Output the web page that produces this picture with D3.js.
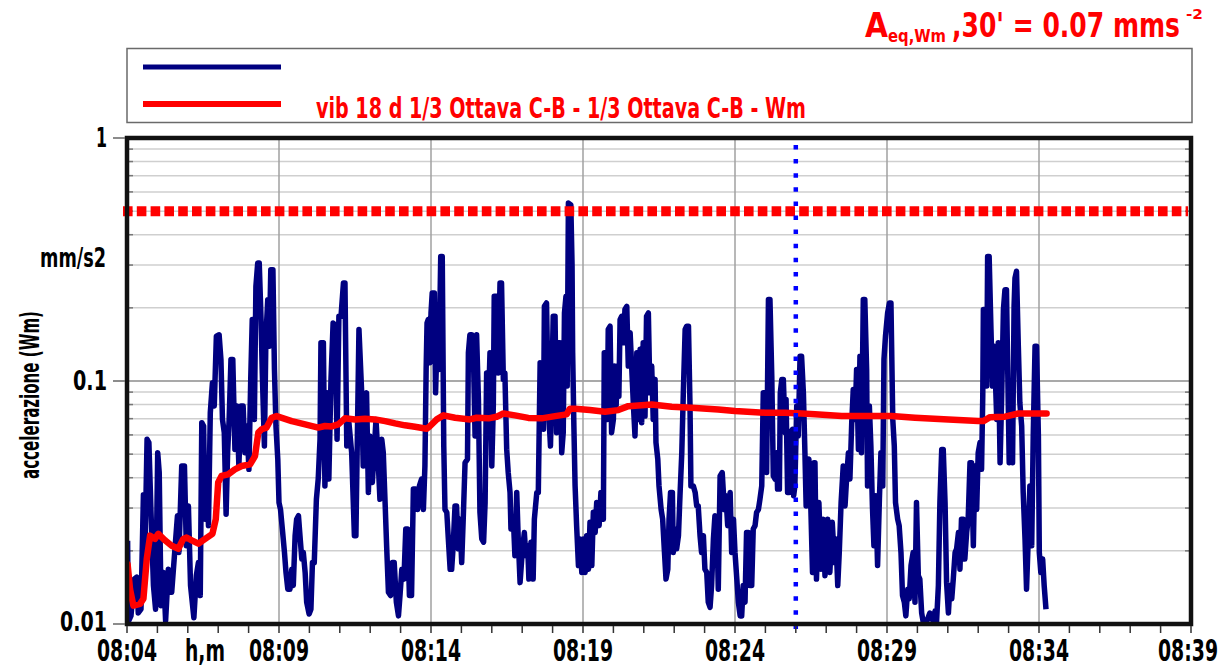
<!DOCTYPE html>
<html><head><meta charset="utf-8">
<script src="https://cdn.jsdelivr.net/npm/d3@7"></script>
<style>
html,body{margin:0;padding:0;background:#fff;}
svg{display:block;}
text{font-family:'Liberation Sans Narrow','DejaVu Sans Condensed','Arial Narrow',sans-serif;font-weight:bold;}
</style></head>
<body>
<svg id="chart" width="1227" height="667"></svg>
<script>
// ---- data (time in minutes after 08:04, acceleration in mm/s2) ----
const xTickLabels = ["08:04","08:09","08:14","08:19","08:24","08:29","08:34","08:39"];
const yTickValues = [0.01, 0.1, 1];
const yTickLabels = ["0.01", "0.1", "1"];
const yMinorGrid = [0.02,0.03,0.04,0.05,0.06,0.07,0.08,0.09,0.2,0.3,0.4,0.5,0.6,0.7,0.8,0.9];
const limitValue = 0.5;      // red dashed limit
const cursorMinute = 22;     // blue dotted cursor at 08:26
const legendLabels = ["", "vib 18 d 1/3 Ottava C-B - 1/3 Ottava C-B - Wm"];

const blueSeries = [
[0.02,0.022],[0.04,0.0102],[0.13,0.0108],[0.24,0.0153],[0.32,0.0156],[0.37,0.0111],[0.46,0.0115],[0.54,0.034],[0.59,0.0197],[0.66,0.0576],[0.72,0.0558],[0.79,0.0288],[0.87,0.0144],[0.94,0.0115],[1.01,0.0507],[1.06,0.042],[1.12,0.0119],[1.20,0.0163],[1.27,0.0103],[1.36,0.0168],[1.47,0.0135],[1.56,0.0191],[1.66,0.0279],[1.71,0.0197],[1.80,0.0447],[1.89,0.0447],[1.95,0.021],[2.02,0.0306],[2.09,0.0144],[2.20,0.0106],[2.28,0.0158],[2.35,0.0179],[2.41,0.0131],[2.46,0.0674],[2.52,0.0653],[2.57,0.027],[2.63,0.0382],[2.68,0.0254],[2.74,0.074],[2.81,0.0984],[2.87,0.0789],[2.94,0.153],[3.03,0.155],[3.09,0.1227],[3.14,0.0695],[3.20,0.0613],[3.26,0.0283],[3.31,0.0507],[3.36,0.0695],[3.42,0.1227],[3.48,0.1227],[3.55,0.0523],[3.62,0.0789],[3.68,0.0447],[3.75,0.0789],[3.82,0.0789],[3.88,0.0507],[3.95,0.0653],[4.01,0.0433],[4.07,0.1015],[4.12,0.179],[4.19,0.0695],[4.24,0.245],[4.30,0.306],[4.35,0.306],[4.41,0.179],[4.45,0.108],[4.52,0.054],[4.57,0.153],[4.63,0.216],[4.68,0.139],[4.73,0.287],[4.80,0.287],[4.85,0.1116],[4.90,0.0653],[4.96,0.0477],[5.00,0.0316],[5.05,0.0296],[5.11,0.0246],[5.18,0.0197],[5.23,0.0163],[5.29,0.0139],[5.36,0.0139],[5.42,0.0168],[5.47,0.0144],[5.53,0.0231],[5.58,0.027],[5.64,0.0279],[5.69,0.0231],[5.75,0.0185],[5.80,0.0197],[5.86,0.0163],[5.91,0.0123],[5.99,0.011],[6.05,0.0115],[6.10,0.0179],[6.16,0.0179],[6.23,0.0326],[6.29,0.0395],[6.35,0.0576],[6.38,0.1436],[6.46,0.1436],[6.51,0.037],[6.58,0.0894],[6.64,0.0395],[6.71,0.1015],[6.78,0.1734],[6.84,0.168],[6.91,0.0576],[6.97,0.1846],[7.04,0.1846],[7.12,0.253],[7.17,0.253],[7.23,0.054],[7.30,0.0674],[7.39,0.0507],[7.48,0.0231],[7.53,0.0231],
[7.63,0.163],[7.72,0.0894],[7.77,0.0447],[7.83,0.0839],[7.88,0.0894],[7.94,0.0348],[7.99,0.0594],[8.07,0.0382],[8.13,0.0507],[8.19,0.0695],[8.25,0.0507],[8.32,0.0326],[8.38,0.0576],[8.43,0.0507],[8.49,0.0316],[8.54,0.021],[8.60,0.0135],[8.67,0.0131],[8.73,0.0179],[8.79,0.0179],[8.86,0.0123],[8.93,0.0108],[8.98,0.0131],[9.04,0.0168],[9.11,0.0153],[9.17,0.0246],[9.23,0.0246],[9.29,0.0131],[9.36,0.0131],[9.42,0.0359],[9.50,0.0359],[9.56,0.0296],[9.62,0.037],[9.69,0.0395],[9.75,0.0296],[9.80,0.0447],[9.84,0.1116],[9.87,0.1734],[9.91,0.179],[9.96,0.119],[10.00,0.1905],[10.04,0.2304],[10.11,0.2304],[10.15,0.0894],[10.22,0.179],[10.26,0.1116],[10.32,0.3256],[10.37,0.3256],[10.42,0.054],[10.46,0.0296],[10.52,0.0288],[10.57,0.0224],[10.63,0.0168],[10.68,0.0168],[10.73,0.021],[10.79,0.0306],[10.84,0.0306],[10.90,0.0204],[10.95,0.027],[11.01,0.0179],[11.06,0.027],[11.12,0.0461],[11.20,0.0477],[11.23,0.1306],[11.28,0.155],[11.34,0.155],[11.39,0.139],[11.45,0.0594],[11.50,0.155],[11.56,0.0839],[11.61,0.0288],[11.67,0.0224],[11.73,0.0217],[11.78,0.0316],[11.83,0.108],[11.89,0.0789],[11.94,0.1306],[12.00,0.0447],[12.05,0.0789],[12.08,0.2233],[12.16,0.2233],[12.21,0.108],[12.27,0.253],[12.32,0.253],[12.38,0.1015],[12.43,0.108],[12.49,0.0523],[12.54,0.042],[12.60,0.0348],[12.63,0.0246],[12.71,0.027],[12.76,0.0191],[12.82,0.0348],[12.87,0.0224],[12.93,0.0148],[13.00,0.0197],[13.07,0.0238],[13.12,0.0191],[13.18,0.021],[13.22,0.0153],[13.29,0.0217],[13.36,0.0153],[13.40,0.027],[13.48,0.0348],[13.53,0.0348],[13.59,0.119],[13.64,0.1152],[13.70,0.0633],[13.73,0.203],[13.80,0.2095],[13.86,0.0789],[13.93,0.054],[13.97,0.0894],[14.02,0.1846],[14.08,0.1846],[14.13,0.0613],[14.19,0.1436],[14.24,0.1436],[14.30,0.0507],[14.35,0.0613],[14.39,0.1905],[14.44,0.2233],[14.48,0.0953],[14.52,0.54],[14.60,0.53],[14.64,0.3],[14.66,0.1306],[14.70,0.0653],[14.74,0.037],[14.79,0.0254],[14.85,0.0174],[14.90,0.0224],[14.96,0.0163],[15.01,0.0224],[15.07,0.0163],
[15.12,0.0231],[15.18,0.0168],[15.23,0.0262],[15.29,0.0174],[15.34,0.0288],[15.40,0.0238],[15.45,0.0316],[15.53,0.0254],[15.59,0.0348],[15.67,0.027],[15.70,0.1306],[15.76,0.1306],[15.80,0.0695],[15.83,0.163],[15.89,0.168],[15.94,0.0613],[16.00,0.0695],[16.03,0.1152],[16.09,0.0789],[16.14,0.1152],[16.18,0.0866],[16.22,0.179],[16.27,0.1846],[16.33,0.1436],[16.38,0.197],[16.44,0.203],[16.49,0.1152],[16.55,0.158],[16.60,0.1152],[16.66,0.0789],[16.71,0.0594],[16.77,0.1306],[16.82,0.0695],[16.88,0.135],[16.93,0.0674],[16.98,0.1436],[17.04,0.0717],[17.09,0.1846],[17.15,0.1905],[17.20,0.0894],[17.26,0.1152],[17.31,0.0695],[17.37,0.1015],[17.40,0.0558],[17.46,0.0477],[17.50,0.037],[17.57,0.0296],[17.62,0.027],[17.68,0.0197],[17.73,0.0153],[17.79,0.0168],[17.83,0.027],[17.88,0.0348],[17.94,0.0348],[17.97,0.0197],[18.03,0.0246],[18.08,0.0204],[18.14,0.0231],[18.19,0.0337],[18.25,0.0507],[18.30,0.0894],[18.36,0.163],[18.41,0.168],[18.47,0.168],[18.52,0.0789],[18.55,0.037],[18.63,0.037],[18.69,0.0348],[18.74,0.0306],[18.79,0.0306],[18.85,0.0231],[18.90,0.0197],[18.96,0.0231],[19.01,0.0168],[19.07,0.0163],[19.12,0.0123],[19.18,0.0117],[19.23,0.0144],[19.29,0.0224],[19.34,0.0279],[19.40,0.027],[19.45,0.0139],[19.51,0.0407],[19.58,0.042],[19.65,0.0296],[19.70,0.0337],[19.76,0.0254],[19.84,0.0348],[19.89,0.0197],[19.95,0.027],[20.00,0.0197],[20.06,0.0153],[20.11,0.0123],[20.17,0.0108],[20.22,0.0108],[20.27,0.0144],[20.33,0.0123],[20.38,0.0238],[20.44,0.0238],[20.49,0.0144],[20.55,0.0144],[20.60,0.0246],[20.66,0.0254],[20.71,0.0288],[20.77,0.0296],[20.82,0.0326],[20.88,0.037],[20.93,0.0894],[20.99,0.0894],[21.04,0.042],[21.10,0.2163],[21.15,0.2163],[21.21,0.1047],[21.26,0.0407],[21.32,0.0395],[21.37,0.0507],[21.40,0.0359],[21.46,0.0359],[21.49,0.0894],[21.54,0.1015],[21.59,0.1015],[21.65,0.0613],[21.68,0.0839],[21.73,0.0348],[21.78,0.0348],[21.83,0.0613],[21.89,0.0633],[21.93,0.0337],[21.97,0.037],[22.03,0.0789],[22.08,0.0594],[22.14,0.1265],[22.19,0.1265],[22.25,0.0894],[22.30,0.0507],[22.34,0.0306],[22.39,0.0461],[22.43,0.0477],[22.49,0.0316],[22.55,0.0163],[22.60,0.0461],
[22.63,0.0461],[22.68,0.0153],[22.76,0.0316],[22.83,0.0168],[22.90,0.027],[22.96,0.0158],[23.05,0.027],[23.12,0.0163],[23.20,0.0262],[23.27,0.0179],[23.32,0.0224],[23.38,0.0144],[23.43,0.0197],[23.49,0.0316],[23.56,0.0447],[23.62,0.0306],[23.67,0.0395],[23.73,0.0507],[23.78,0.0395],[23.84,0.0674],[23.89,0.0923],[23.95,0.0695],[24.00,0.1116],[24.06,0.0523],[24.11,0.1265],[24.16,0.0507],[24.22,0.2163],[24.27,0.2163],[24.33,0.1116],[24.36,0.037],[24.42,0.0789],[24.47,0.054],[24.52,0.0306],[24.57,0.021],[24.63,0.0337],[24.69,0.0174],[24.75,0.0326],[24.80,0.0507],[24.86,0.037],[24.90,0.1227],[24.95,0.1528],[25.02,0.1905],[25.08,0.2095],[25.13,0.2095],[25.19,0.0695],[25.24,0.054],[25.28,0.0316],[25.35,0.027],[25.40,0.0254],[25.46,0.0197],[25.51,0.0131],[25.57,0.0123],[25.62,0.0108],[25.68,0.0139],[25.73,0.0127],[25.79,0.0174],[25.86,0.0197],[25.92,0.0123],[25.97,0.0316],[26.03,0.0158],[26.08,0.0153],[26.14,0.0111],[26.19,0.0102],[26.30,0.0102],[26.41,0.0111],[26.47,0.0108],[26.52,0.0102],[26.58,0.0113],[26.63,0.0102],[26.69,0.0144],[26.74,0.0316],[26.80,0.0523],[26.85,0.0523],[26.91,0.0316],[26.96,0.0148],[27.02,0.0111],[27.07,0.0144],[27.13,0.0127],[27.18,0.0153],[27.24,0.0197],[27.29,0.0204],[27.35,0.0238],[27.40,0.0168],[27.45,0.027],[27.51,0.027],[27.56,0.0185],[27.62,0.0238],[27.67,0.027],[27.73,0.0461],[27.78,0.0461],[27.84,0.021],[27.89,0.0447],[27.95,0.0296],[28.00,0.0507],[28.06,0.0558],[28.11,0.0433],[28.15,0.0866],[28.17,0.197],[28.22,0.197],[28.28,0.0953],[28.31,0.3256],[28.36,0.3256],[28.42,0.163],[28.47,0.0953],[28.53,0.139],[28.61,0.0695],[28.66,0.1436],[28.72,0.0461],[28.77,0.0839],[28.83,0.197],[28.88,0.2376],[28.93,0.2376],[28.99,0.0789],[29.02,0.0461],[29.08,0.0894],[29.13,0.0461],[29.18,0.203],[29.21,0.2653],[29.26,0.2828],[29.32,0.139],[29.37,0.0814],[29.43,0.0653],[29.48,0.0348],[29.54,0.0224],[29.59,0.0139],[29.65,0.0231],[29.70,0.037],[29.76,0.021],[29.81,0.0594],[29.87,0.139],[29.92,0.139],[29.98,0.0594],[30.01,0.0197],[30.06,0.0163],[30.12,0.0185],[30.17,0.0144],[30.23,0.0115]
];

const redSeries = [
[0.02,0.0176],[0.10,0.0139],[0.21,0.0119],[0.43,0.0121],[0.54,0.0127],[0.65,0.0185],[0.76,0.0231],[0.92,0.0224],[1.03,0.0235],[1.25,0.0221],[1.47,0.021],[1.69,0.0204],[1.85,0.0224],[1.96,0.0227],[2.13,0.0221],[2.35,0.0214],[2.57,0.0224],[2.81,0.0235],[2.92,0.027],[3.00,0.0382],[3.11,0.0407],[3.33,0.0413],[3.55,0.0433],[3.77,0.0447],[4.05,0.0454],[4.21,0.0491],[4.32,0.0613],[4.43,0.0633],[4.59,0.0643],[4.76,0.0706],[4.92,0.0717],[5.42,0.0684],[5.86,0.0663],[6.29,0.0643],[6.51,0.0653],[6.73,0.065],[6.95,0.0663],[7.17,0.0702],[7.50,0.0695],[7.83,0.0699],[8.16,0.0695],[8.49,0.0684],[8.82,0.0669],[9.14,0.0657],[9.47,0.0648],[9.86,0.0636],[9.97,0.0653],[10.19,0.0695],[10.41,0.0722],[10.79,0.0706],[11.28,0.0695],[11.50,0.0706],[11.89,0.0702],[12.16,0.0713],[12.38,0.0735],[12.76,0.0722],[13.20,0.0705],[13.64,0.0702],[14.08,0.0717],[14.46,0.0729],[14.57,0.0769],[14.74,0.0769],[15.23,0.0759],[15.72,0.0747],[16.16,0.0759],[16.49,0.0788],[17.26,0.0801],[17.92,0.0783],[18.57,0.0776],[19.45,0.0764],[20.00,0.0752],[20.99,0.074],[21.65,0.074],[22.19,0.0735],[22.63,0.0729],[23.51,0.0717],[24.27,0.0717],[25.15,0.0717],[25.92,0.0706],[27.02,0.0695],[28.00,0.0684],[28.17,0.0684],[28.39,0.071],[28.88,0.0713],[29.32,0.0735],[29.65,0.0735],[30.25,0.0735]
];

// ---- layout ----
const svg = d3.select("#chart");
const L = 127, R = 1191, T = 138, B = 624;
const x = d3.scaleLinear().domain([0, 35]).range([L, R]);
const y = d3.scaleLog().domain([0.01, 1]).range([B, T]);

// title
const title = svg.append("g").attr("fill", "#ff0000");
title.append("text").attr("x", 865).attr("y", 37).attr("font-size", 34).attr("textLength", 23).attr("lengthAdjust","spacingAndGlyphs").text("A");
title.append("text").attr("x", 888).attr("y", 42).attr("font-size", 17).attr("textLength", 58).attr("lengthAdjust","spacingAndGlyphs").attr("font-weight","normal").text("eq,Wm");
title.append("text").attr("x", 952).attr("y", 37).attr("font-size", 34).attr("textLength", 228).attr("lengthAdjust","spacingAndGlyphs").text(",30' = 0.07 mms");
title.append("text").attr("x", 1186).attr("y", 19).attr("font-size", 14).attr("textLength", 17).attr("lengthAdjust","spacingAndGlyphs").text("-2");

// legend
svg.append("rect").attr("x", 127).attr("y", 48.5).attr("width", 1065).attr("height", 74)
  .attr("fill", "#fff").attr("stroke", "#6a6a6a").attr("stroke-width", 1.5);
svg.append("line").attr("x1", 143).attr("x2", 281).attr("y1", 67).attr("y2", 67)
  .attr("stroke", "#000080").attr("stroke-width", 5);
svg.append("line").attr("x1", 143).attr("x2", 281).attr("y1", 104).attr("y2", 104)
  .attr("stroke", "#ff0000").attr("stroke-width", 6);
svg.append("text").attr("x", 316).attr("y", 118).attr("font-size", 28).attr("fill", "#ff0000")
  .attr("textLength", 490).attr("lengthAdjust", "spacingAndGlyphs").text(legendLabels[1]);

// grid
const grid = svg.append("g");
grid.selectAll("line.hm").data(yMinorGrid).join("line")
  .attr("x1", L).attr("x2", R).attr("y1", d => y(d)).attr("y2", d => y(d))
  .attr("stroke", "#cfcfcf").attr("stroke-width", 1.5);
grid.append("line").attr("x1", L).attr("x2", R).attr("y1", y(0.1)).attr("y2", y(0.1))
  .attr("stroke", "#8c8c8c").attr("stroke-width", 1.5);
grid.selectAll("line.v").data([5,10,15,20,25,30]).join("line")
  .attr("x1", d => x(d)).attr("x2", d => x(d)).attr("y1", T).attr("y2", B)
  .attr("stroke", "#a0a0a0").attr("stroke-width", 1.5);
grid.selectAll("line.lt").data(yMinorGrid).join("line")
  .attr("x1", L).attr("x2", L + 6).attr("y1", d => y(d)).attr("y2", d => y(d))
  .attr("stroke", "#777").attr("stroke-width", 1.5);
grid.selectAll("line.rt").data(yMinorGrid).join("line")
  .attr("x1", R - 6).attr("x2", R).attr("y1", d => y(d)).attr("y2", d => y(d))
  .attr("stroke", "#777").attr("stroke-width", 1.5);

// data lines
svg.append("clipPath").attr("id", "pc").append("rect")
  .attr("x", L).attr("y", T).attr("width", R - L).attr("height", B - T);
const line = d3.line().x(d => x(d[0])).y(d => y(d[1]));
svg.append("path").datum(blueSeries).attr("d", line).attr("clip-path", "url(#pc)")
  .attr("fill", "none").attr("stroke", "#000080").attr("stroke-width", 5.5).attr("stroke-linejoin", "round");
svg.append("path").datum(redSeries).attr("d", line).attr("clip-path", "url(#pc)")
  .attr("fill", "none").attr("stroke", "#ff0000").attr("stroke-width", 6.5).attr("stroke-linejoin", "round").attr("stroke-linecap","round");

// limit line
svg.append("line").attr("x1", L - 4).attr("x2", R - 3).attr("y1", y(limitValue)).attr("y2", y(limitValue))
  .attr("stroke", "#ff0000").attr("stroke-width", 10).attr("stroke-dasharray", "9.6 4.2");
// cursor
svg.append("line").attr("x1", x(cursorMinute)).attr("x2", x(cursorMinute)).attr("y1", T + 7).attr("y2", B + 5)
  .attr("stroke", "#0000ff").attr("stroke-width", 4.5).attr("stroke-dasharray", "4.5 9.6");

// frame
svg.append("rect").attr("x", L).attr("y", T).attr("width", R - L).attr("height", B - T)
  .attr("fill", "none").attr("stroke", "#111").attr("stroke-width", 4.5);

// y axis
svg.selectAll("line.ytk").data(yTickValues).join("line")
  .attr("x1", 113).attr("x2", L - 2).attr("y1", d => y(d)).attr("y2", d => y(d))
  .attr("stroke", "#666").attr("stroke-width", 1.5);
const ylbW = {"0.01": 47, "0.1": 34, "1": 11};
svg.selectAll("text.ytl").data(yTickLabels).join("text")
  .attr("x", 107).attr("y", (d, i) => y(yTickValues[i]) + (i === 0 ? 7 : 9))
  .attr("text-anchor", "end").attr("font-size", 27).attr("fill", "#000")
  .attr("textLength", d => ylbW[d]).attr("lengthAdjust", "spacingAndGlyphs").text(d => d);
svg.append("text").attr("x", 40).attr("y", 267).attr("font-size", 26).attr("textLength", 66)
  .attr("lengthAdjust", "spacingAndGlyphs").text("mm/s2");
svg.append("text").attr("transform", "translate(39,395) rotate(-90)").attr("text-anchor", "middle")
  .attr("font-size", 26).attr("textLength", 168).attr("lengthAdjust", "spacingAndGlyphs").text("accelerazione (Wm)");

// x axis
svg.selectAll("line.xtk").data(d3.range(0, 36)).join("line")
  .attr("x1", d => x(d)).attr("x2", d => x(d)).attr("y1", B + 2).attr("y2", B + 9)
  .attr("stroke", "#333").attr("stroke-width", 1.5);
svg.selectAll("text.xtl").data(xTickLabels).join("text")
  .attr("x", (d, i) => x(i * 5) - (i === 7 ? 3 : 0)).attr("y", 661).attr("text-anchor", "middle")
  .attr("font-size", 30).attr("textLength", 60).attr("lengthAdjust", "spacingAndGlyphs").text(d => d);
svg.append("text").attr("x", 205).attr("y", 661).attr("text-anchor", "middle")
  .attr("font-size", 30).attr("textLength", 40).attr("lengthAdjust", "spacingAndGlyphs").text("h,m");
</script>
</body></html>
